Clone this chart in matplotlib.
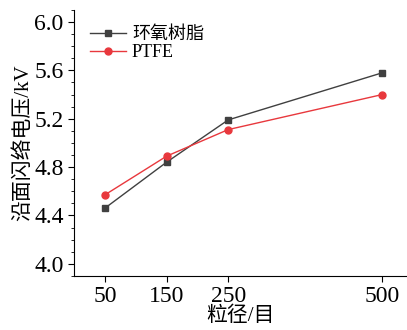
import matplotlib
matplotlib.use('Agg')
import matplotlib.pyplot as plt
from matplotlib.ticker import MultipleLocator

plt.rcParams['font.family'] = ['Liberation Serif', 'Noto Sans CJK SC']

mesh = [50, 150, 250, 500]
epoxy = [4.46, 4.84, 5.19, 5.58]
ptfe = [4.57, 4.89, 5.11, 5.40]
series_names = ['环氧树脂', 'PTFE']

fig = plt.figure(figsize=(4.07, 3.30), dpi=100)
ax = fig.add_axes([0.182, 0.164, 0.818, 0.806])

ax.plot(mesh, epoxy, color='#404040', marker='s', markersize=4.5, linewidth=1.0, label=series_names[0])
ax.plot(mesh, ptfe, color='#e8383d', marker='o', markersize=5, linewidth=1.0, label=series_names[1])

ax.set_xlim(0, 540)
ax.set_ylim(3.9, 6.1)
ax.set_xticks(mesh)
ax.set_yticks([4.0, 4.4, 4.8, 5.2, 5.6, 6.0])
ax.yaxis.set_minor_locator(MultipleLocator(0.1))
ax.tick_params(axis='both', which='major', direction='out', length=4, width=0.8, labelsize=17)
ax.tick_params(axis='x', pad=3)
ax.tick_params(axis='y', which='minor', direction='out', length=2.5, width=0.6)
ax.spines['top'].set_visible(False)
ax.spines['right'].set_visible(False)

ax.set_xlabel('粒径/目', fontsize=15, labelpad=0)
ax.set_ylabel('沿面闪络电压/kV', fontsize=15, labelpad=1)

ax.legend(loc='upper left', bbox_to_anchor=(0.0, 1.0), frameon=False, fontsize=13,
          handlelength=2.0, handletextpad=0.3, labelspacing=0.05, borderaxespad=0.5)

fig.savefig('out.png', dpi=100)
